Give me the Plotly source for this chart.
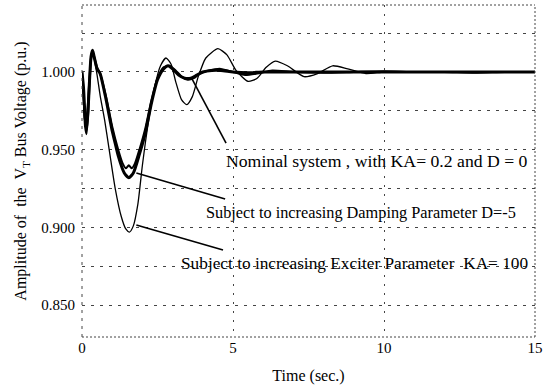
import plotly.graph_objects as go

# ---- data ----
t_nom = [0, 0.05, 0.1, 0.15, 0.2, 0.25, 0.3, 0.35, 0.4, 0.5, 0.6, 0.8, 1.0, 1.1, 1.2, 1.4,
         1.55, 1.7, 1.9, 2.1, 2.3, 2.5, 2.7, 2.85, 3.0, 3.2, 3.4, 3.6, 3.8, 4.0, 4.3, 4.6,
         5.0, 5.5, 6.0, 7.0, 8.0, 9.0, 10.0, 12.0, 15.0]
v_nom = [1.000, 0.990, 0.972, 0.963, 0.975, 0.995, 1.010, 1.014, 1.010, 1.002, 0.999, 0.982,
         0.962, 0.954, 0.946, 0.935, 0.932, 0.935, 0.947, 0.961, 0.980, 0.995, 1.002, 1.004,
         1.002, 0.998, 0.996, 0.996, 0.998, 1.000, 1.001, 1.001, 1.000, 0.9995, 1.000, 1.000,
         1.000, 1.000, 1.000, 1.000, 1.000]

t_damp = [0, 0.05, 0.1, 0.15, 0.2, 0.25, 0.3, 0.35, 0.4, 0.5, 0.6, 0.8, 1.0, 1.2, 1.35, 1.45,
          1.55, 1.65, 1.75, 1.9, 2.1, 2.3, 2.5, 2.7, 2.9, 3.1, 3.3, 3.5, 3.7, 3.9, 4.2, 4.6,
          5.0, 5.4, 5.8, 6.3, 7.0, 8.0, 9.0, 10.0, 11.0, 12.0, 13.0, 14.0, 15.0]
v_damp = [1.000, 0.985, 0.965, 0.960, 0.972, 0.992, 1.008, 1.013, 1.010, 1.003, 0.999, 0.984,
          0.965, 0.950, 0.941, 0.938, 0.940, 0.938, 0.941, 0.950, 0.964, 0.982, 0.996, 1.003,
          1.004, 1.001, 0.997, 0.995, 0.996, 0.999, 1.001, 1.002, 1.000, 0.998, 0.999, 1.001,
          1.000, 0.9995, 1.000, 1.0005, 1.000, 1.000, 0.9995, 1.000, 1.000]

t_ka = [0, 0.05, 0.1, 0.15, 0.2, 0.25, 0.3, 0.35, 0.4, 0.5, 0.6, 0.75, 0.9, 1.1, 1.3, 1.45,
        1.57, 1.7, 1.85, 2.0, 2.2, 2.4, 2.6, 2.78, 2.95, 3.1, 3.3, 3.47, 3.65, 3.85, 4.1, 4.5,
        4.8, 5.1, 5.5, 5.8, 6.1, 6.4, 6.8, 7.35, 7.8, 8.3, 8.8, 9.4, 10.0, 11.0, 12.0, 13.0, 15.0]
v_ka = [1.000, 0.980, 0.966, 0.970, 0.985, 1.000, 1.011, 1.013, 1.009, 0.998, 0.985, 0.969,
        0.950, 0.925, 0.907, 0.899, 0.897, 0.901, 0.915, 0.940, 0.968, 0.990, 1.004, 1.009,
        1.005, 0.994, 0.982, 0.979, 0.984, 0.997, 1.009, 1.015, 1.011, 1.001, 0.994, 0.996,
        1.003, 1.007, 1.004, 0.997, 0.999, 1.004, 1.002, 0.999, 1.000, 1.000, 1.000, 1.000, 1.000]

x_ticks = [0, 5, 10, 15]
y_ticks = [0.85, 0.875, 0.9, 0.925, 0.95, 0.975, 1.0, 1.025]
y_ticktext = ["0.850", "", "0.900", "", "0.950", "", "1.000", ""]

labels = ["Nominal system , with KA= 0.2 and D = 0",
          "Subject to increasing Damping Parameter D=-5",
          "Subject to increasing Exciter Parameter  KA= 100"]

FONT = "Liberation Serif"

fig = go.Figure()
fig.add_trace(go.Scatter(x=t_ka, y=v_ka, mode="lines", line=dict(color="black", width=1.3, shape="spline", smoothing=0.6)))
fig.add_trace(go.Scatter(x=t_damp, y=v_damp, mode="lines", line=dict(color="black", width=2, shape="spline", smoothing=0.6)))
fig.add_trace(go.Scatter(x=t_nom, y=v_nom, mode="lines", line=dict(color="black", width=3, shape="spline", smoothing=0.6)))

# text labels
label_pos = [(4.71, 0.9427), (4.05, 0.9093), (3.20, 0.8771)]
label_size = [17.7, 16.3, 17.3]
for txt, (lx, ly), fs in zip(labels, label_pos, label_size):
    fig.add_annotation(x=lx, y=ly, xref="x", yref="y", text=txt, showarrow=False,
                       xanchor="left", yanchor="middle", font=dict(family=FONT, size=fs, color="black"))

# leader lines
leaders = [((3.63, 0.9961), (4.77, 0.9543)),
           ((1.80, 0.9350), (4.74, 0.9183)),
           ((1.80, 0.9015), (4.67, 0.8855))]
for (x0, y0), (x1, y1) in leaders:
    fig.add_shape(type="line", x0=x0, y0=y0, x1=x1, y1=y1, xref="x", yref="y",
                  line=dict(color="black", width=1.6))

# frame
frame_line = dict(color="#444", width=1, dash="2px,2px")
fig.add_shape(type="line", xref="paper", yref="paper", x0=0, x1=1, y0=1, y1=1, line=frame_line)
fig.add_shape(type="line", xref="paper", yref="paper", x0=1, x1=1, y0=0, y1=1, line=frame_line)
fig.add_shape(type="line", xref="paper", yref="paper", x0=0, x1=1, y0=0, y1=0, line=frame_line)
fig.add_shape(type="line", xref="paper", yref="paper", x0=0, x1=0, y0=0, y1=1,
              line=dict(color="#444", width=1, dash="3px,5px"))

fig.update_layout(
    width=548, height=392,
    margin=dict(l=82, r=7, t=5, b=55),
    paper_bgcolor="white", plot_bgcolor="white",
    showlegend=False,
    font=dict(family=FONT, size=15, color="black"),
    xaxis=dict(range=[0, 15], tickvals=x_ticks, ticktext=[str(v) for v in x_ticks],
               showgrid=True, gridcolor="#444", griddash="2px,7px", gridwidth=1,
               zeroline=False, showline=False, ticks="", ticklabeloverflow="allow",
               title=dict(text="Time (sec.)", font=dict(family=FONT, size=16), standoff=14),
               tickfont=dict(family=FONT, size=15)),
    yaxis=dict(range=[0.8295, 1.0431], tickvals=y_ticks, ticktext=y_ticktext,
               showgrid=True, gridcolor="#444", griddash="3px,6px", gridwidth=1,
               zeroline=False, showline=False, ticks="", ticklabelstandoff=6,
               title=dict(text="Amplitude of  the  V<sub>T</sub> Bus Voltage (p.u.)",
                          font=dict(family=FONT, size=16), standoff=10),
               tickfont=dict(family=FONT, size=15)),
)

fig.write_html("out.html")
